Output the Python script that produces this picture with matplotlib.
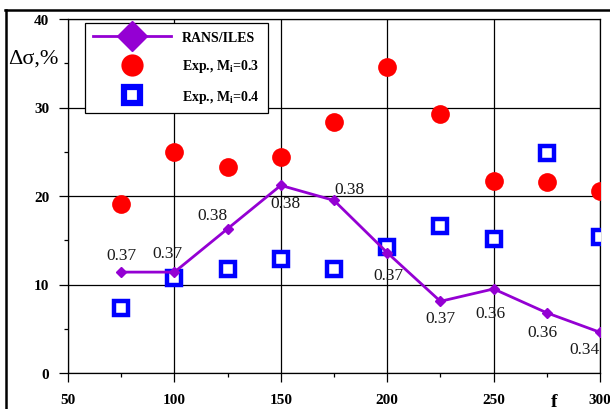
import matplotlib.pyplot as plt
from matplotlib.lines import Line2D
from matplotlib.ticker import MultipleLocator

# Frequency parameter and scatter of sigma
F = [75, 100, 125, 150, 175, 200, 225, 250, 275, 300]
RANS_ILES = [11.4, 11.4, 16.3, 21.2, 19.5, 13.6, 8.1, 9.5, 6.8, 4.6]
RANS_LABELS = ["0.37", "0.37", "0.38", "0.38", "0.38", "0.37", "0.37", "0.36", "0.36", "0.34"]
EXP_M03 = [19.1, 25.0, 23.3, 24.4, 28.4, 34.6, 29.3, 21.7, 21.6, 20.6]
EXP_M04 = [7.3, 10.7, 11.8, 12.9, 11.8, 14.2, 16.6, 15.1, 24.9, 15.4]

# label offsets in points (dx, dy) relative to each RANS point
LABEL_OFFS = [(0, 12), (-5, 14), (-11, 10), (3, -13), (11, 8), (1, -16),
              (0, -12), (-2, -17), (-3, -14), (-11, -12)]

PURPLE = "#9400D3"
SERIF = "Liberation Serif"

fig = plt.figure(figsize=(6.1, 4.1), dpi=100)
ax = fig.add_axes([68 / 610, 1 - 374 / 410, 532 / 610, 354 / 410])

ax.plot(F, RANS_ILES, color=PURPLE, lw=2, marker="D", ms=5.5, zorder=4)
ax.plot(F, EXP_M03, ls="none", marker="o", ms=13.5, color="#FF0000",
        markeredgewidth=0, zorder=3)
ax.plot(F, EXP_M04, ls="none", marker="s", ms=10, markerfacecolor="white",
        markeredgecolor="#0000FF", markeredgewidth=3.2, zorder=3)

for x, y, s, (dx, dy) in zip(F, RANS_ILES, RANS_LABELS, LABEL_OFFS):
    ax.annotate(s, (x, y), xytext=(dx, dy), textcoords="offset points",
                ha="center", va="center", fontsize=12.5, family=SERIF,
                color="#1a1a1a", zorder=5)

ax.set_xlim(50, 300)
ax.set_ylim(0, 40)
ax.xaxis.set_major_locator(MultipleLocator(50))
ax.xaxis.set_minor_locator(MultipleLocator(25))
ax.yaxis.set_major_locator(MultipleLocator(10))
ax.yaxis.set_minor_locator(MultipleLocator(5))
ax.grid(True, which="major", color="black", lw=0.9)
ax.set_axisbelow(True)
ax.tick_params(which="major", direction="out", length=6.5, width=0.9, pad=8)
ax.tick_params(which="minor", direction="out", length=3, width=0.9)
ax.tick_params(axis="y", which="major", pad=7)
for lab in ax.get_xticklabels() + ax.get_yticklabels():
    lab.set_fontfamily(SERIF)
    lab.set_fontweight("bold")
    lab.set_fontsize(11)
for sp in ax.spines.values():
    sp.set_linewidth(0.9)

fig.text(8 / 610, 1 - 59 / 410, "Δσ,%", family=SERIF, fontsize=16, va="center")
fig.text(551 / 610, 1 - 403 / 410, "f", family=SERIF, fontsize=14,
         fontweight="bold", va="center")

# outer frame
fig.add_artist(Line2D([5 / 610, 1], [1 - 11 / 410] * 2, color="black", lw=1.8))
fig.add_artist(Line2D([6 / 610] * 2, [0, 1 - 11 / 410], color="black", lw=1.8))

handles = [
    Line2D([], [], color=PURPLE, lw=2, marker="D", ms=15),
    Line2D([], [], ls="none", marker="o", ms=16, color="#FF0000", markeredgewidth=0),
    Line2D([], [], ls="none", marker="s", ms=12, markerfacecolor="white",
           markeredgecolor="#0000FF", markeredgewidth=4.5),
]
labels = ["RANS/ILES", "Exp., M$_\\mathregular{i}$=0.3", "Exp., M$_\\mathregular{i}$=0.4"]
leg = ax.legend(handles, labels, loc="upper left", bbox_to_anchor=(0.032, 0.989),
                borderaxespad=0,
                prop={"family": SERIF, "weight": "bold", "size": 10},
                handlelength=5.6, labelspacing=0.95, borderpad=0.6,
                fancybox=False, framealpha=1, edgecolor="black")
leg.get_frame().set_linewidth(0.9)

fig.savefig("out.png", dpi=100)
